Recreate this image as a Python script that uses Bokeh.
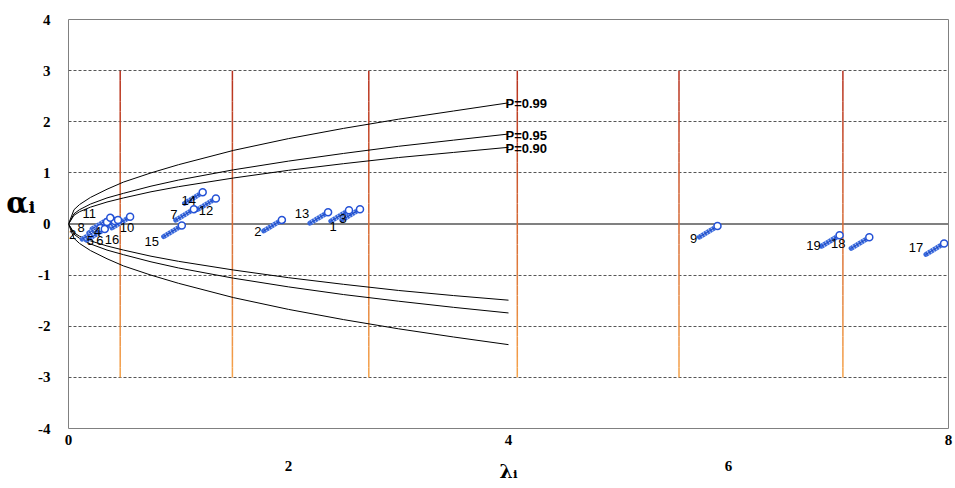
from bokeh.plotting import figure
from bokeh.models import FixedTicker, LinearAxis, Span, ColumnDataSource, Range1d
from bokeh.embed import file_html
from bokeh.resources import INLINE
from bokeh.core.properties import value

# ---------------- data ----------------
point_ids = ["1", "2", "3", "4", "5", "6", "7", "8", "9", "10",
             "11", "12", "13", "14", "15", "16", "17", "18", "19"]
lam = [2.55, 1.94, 2.65, 0.42, 0.29, 0.33, 1.14, 0.35, 5.90, 0.56,
       0.38, 1.34, 2.36, 1.22, 1.03, 0.45, 7.96, 7.28, 7.01]
alpha = [0.27, 0.08, 0.29, 0.06, -0.08, -0.10, 0.29, 0.04, -0.04, 0.14,
         0.12, 0.50, 0.23, 0.62, -0.03, 0.08, -0.38, -0.26, -0.22]

curve_x = [0, 0.05, 0.1, 0.2, 0.35, 0.5, 0.75, 1.0, 1.5, 2.0, 2.5, 3.0, 3.5, 4.0]
p99_upper = [0, 0.28, 0.38, 0.52, 0.68, 0.82, 1.00, 1.16, 1.44, 1.67, 1.87, 2.05, 2.21, 2.37]
p95_upper = [0, 0.20, 0.28, 0.39, 0.51, 0.60, 0.74, 0.86, 1.06, 1.23, 1.38, 1.52, 1.64, 1.76]
p90_upper = [0, 0.17, 0.24, 0.33, 0.43, 0.51, 0.63, 0.73, 0.90, 1.05, 1.18, 1.30, 1.40, 1.50]
p99_lower = [0, -0.28, -0.38, -0.52, -0.68, -0.82, -1.00, -1.16, -1.44, -1.67, -1.87, -2.05, -2.21, -2.36]
p95_lower = [0, -0.20, -0.28, -0.39, -0.51, -0.60, -0.74, -0.86, -1.06, -1.23, -1.38, -1.51, -1.63, -1.74]
p90_lower = [0, -0.17, -0.24, -0.33, -0.43, -0.51, -0.63, -0.73, -0.90, -1.05, -1.18, -1.30, -1.40, -1.49]
curve_labels = ["P=0.99", "P=0.95", "P=0.90"]

vline_x = [0.47, 1.49, 2.73, 4.08, 5.55, 7.04]
vline_top = 3
vline_bottom = -3

x_ticks_row1 = [0, 4, 8]
x_ticks_row2 = [2, 6]
y_ticks = [-4, -3, -2, -1, 0, 1, 2, 3, 4]
grid_ticks = [-3, -2, -1, 1, 2, 3]
x_title = "λᵢ"
y_title = "αᵢ"
y_title_pos = 0.42

# ---------------- styling ----------------
label_dx = [-16, -24, -17, -17, -10, -5, -20, -26, -24, -3,
            -21, -10, -26, -14, -30, -6, -28, -31, -26]
label_dy = [16, 12, 9, 11, 12, 11, 5, 6, 12, 11,
            -4, 12, 1, 8, 16, 20, 4, 6, 10]
pencil_dx = -0.165
pencil_dy = -0.215

p = figure(width=953, height=484, x_range=Range1d(0, 8), y_range=Range1d(-4, 4),
           output_backend="svg", toolbar_location=None,
           min_border_left=68, min_border_right=5, min_border_top=19, min_border_bottom=56)
p.background_fill_color = "white"
p.border_fill_color = "white"
p.outline_line_color = "#808080"
p.outline_line_width = 1
p.xgrid.visible = False
p.ygrid.ticker = FixedTicker(ticks=grid_ticks)
p.ygrid.grid_line_color = "#555555"
p.ygrid.grid_line_dash = "3 2"
p.ygrid.grid_line_width = 1


def style_axis(ax, standoff, size="15px", font="Liberation Serif"):
    ax.axis_line_color = None
    ax.major_tick_line_color = None
    ax.minor_tick_line_color = None
    ax.major_tick_out = 0
    ax.major_tick_in = 0
    ax.major_label_standoff = standoff
    ax.major_label_text_font = font
    ax.major_label_text_font_style = "bold"
    ax.major_label_text_font_size = size
    ax.major_label_text_color = "black"


# y axis
ya = p.yaxis[0]
ya.ticker = FixedTicker(ticks=y_ticks)
style_axis(ya, 18)
ya.major_label_overrides = {t: str(t) for t in y_ticks}

# y title as an outer axis label
ya2 = LinearAxis(ticker=FixedTicker(ticks=[y_title_pos]))
style_axis(ya2, 0, "29px", "DejaVu Serif")
ya2.major_label_overrides = {y_title_pos: y_title}
p.add_layout(ya2, "left")

# x axes (two rows of tick labels)
xa = p.xaxis[0]
xa.ticker = FixedTicker(ticks=x_ticks_row1)
style_axis(xa, 6)
xa2 = LinearAxis(ticker=FixedTicker(ticks=x_ticks_row2))
style_axis(xa2, 13)
xa2.axis_label = x_title
xa2.axis_label_text_font = "DejaVu Serif"
xa2.axis_label_text_font_style = "bold"
xa2.axis_label_text_font_size = "19px"
xa2.axis_label_text_color = "black"
xa2.axis_label_standoff = -14
p.add_layout(xa2, "below")

# zero line
p.add_layout(Span(location=0, dimension="width", line_color="#808080", line_width=2, level="underlay"))

# vertical gradient lines (dark red top -> orange bottom)
top_rgb = (0xb8, 0x32, 0x1f)
bot_rgb = (0xf5, 0xa2, 0x4a)
nseg = 30
sx0, sy0, sx1, sy1, scol = [], [], [], [], []
for xv in vline_x:
    for k in range(nseg):
        f = k / (nseg - 1)
        c = tuple(int(round(top_rgb[i] + (bot_rgb[i] - top_rgb[i]) * f)) for i in range(3))
        ya0 = vline_top + (vline_bottom - vline_top) * k / nseg
        ya1 = vline_top + (vline_bottom - vline_top) * (k + 1) / nseg
        sx0.append(xv); sx1.append(xv); sy0.append(ya0); sy1.append(ya1)
        scol.append("#%02x%02x%02x" % c)
p.segment(x0=sx0, y0=sy0, x1=sx1, y1=sy1, line_color=scol, line_width=1.5)

# probability curves
for ys in [p99_upper, p95_upper, p90_upper, p99_lower, p95_lower, p90_lower]:
    p.line(curve_x, ys, line_color="black", line_width=1)

p.text(x=[curve_x[-1]] * 3, y=[p99_upper[-1], p95_upper[-1], p90_upper[-1]], text=curve_labels,
       text_font=value("Liberation Sans"), text_font_style="bold", text_font_size="13px",
       text_align="left", text_baseline="middle", x_offset=-3, y_offset=1, text_color="black")

# pencil-like markers
src = ColumnDataSource(dict(
    x=lam, y=alpha,
    tx=[v + pencil_dx for v in lam], ty=[v + pencil_dy for v in alpha],
    lab=point_ids, dx=label_dx, dy=label_dy))
p.segment(x0="x", y0="y", x1="tx", y1="ty", source=src, line_color="#3566dc", line_width=5, line_cap="round")
p.segment(x0="x", y0="y", x1="tx", y1="ty", source=src, line_color="white", line_width=5,
          line_dash="1 2", line_alpha=0.6)
p.segment(x0="x", y0="y", x1="tx", y1="ty", source=src, line_color="#1e48c0", line_width=1)
p.scatter(x="x", y="y", source=src, marker="circle", size=7, fill_color="white",
          line_color="#2552d6", line_width=1.5)

p.text(x="x", y="y", text="lab", source=src, x_offset="dx", y_offset="dy",
       text_font=value("Liberation Sans"), text_font_size="13px", text_color="black",
       text_align="center", text_baseline="middle")

# extra label at origin
p.text(x=[0], y=[0], text=["2"], x_offset=4, y_offset=10,
       text_font=value("Liberation Sans"), text_font_size="13px", text_color="black",
       text_align="center", text_baseline="middle")

open("out.html", "w").write(file_html(p, INLINE))
